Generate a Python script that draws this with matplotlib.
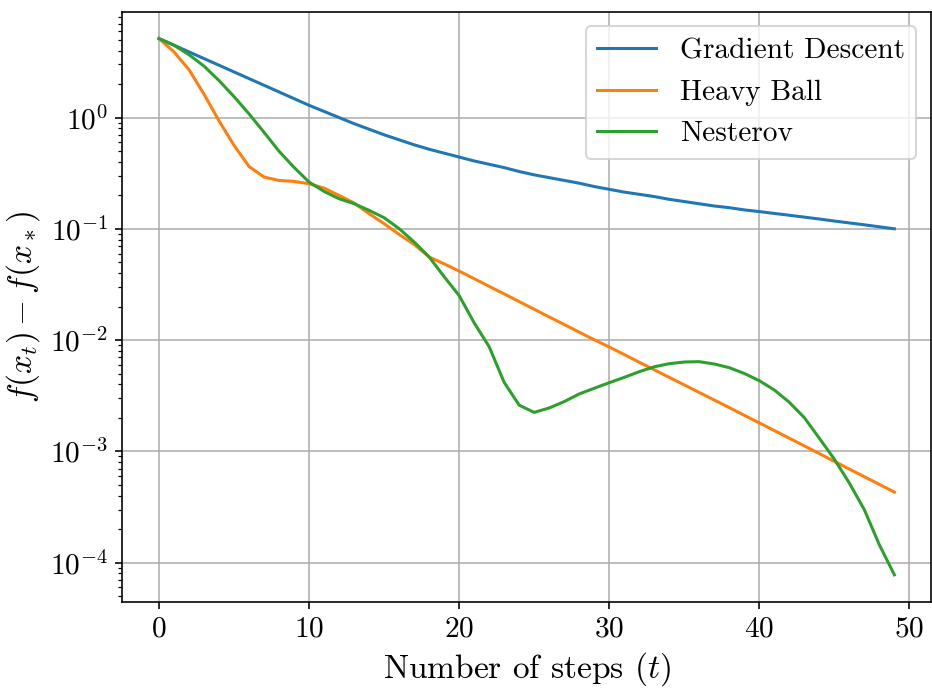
import numpy as np
import matplotlib
matplotlib.use('Agg')
from matplotlib import pyplot as plt
from matplotlib.ticker import FuncFormatter

# log10 of f(x_t) - f(x_*) per step
steps = np.arange(50)

gd_log = [0.71, 0.65, 0.59, 0.53, 0.47, 0.41, 0.35, 0.29, 0.23, 0.17,
          0.11, 0.055, 0.0, -0.055, -0.105, -0.155, -0.20, -0.245, -0.285, -0.32,
          -0.355, -0.39, -0.42, -0.45, -0.485, -0.515, -0.54, -0.565, -0.59, -0.62,
          -0.645, -0.67, -0.69, -0.71, -0.735, -0.755, -0.775, -0.795, -0.81, -0.83,
          -0.845, -0.862, -0.878, -0.895, -0.912, -0.93, -0.947, -0.964, -0.982, -1.0]

hb_log = [0.71, 0.59, 0.43, 0.21, -0.03, -0.25, -0.44, -0.535, -0.565, -0.574,
          -0.595, -0.634, -0.70, -0.768, -0.864, -0.954, -1.05, -1.14, -1.253, -1.315,
          -1.38, -1.448, -1.517, -1.585, -1.654, -1.723, -1.792, -1.86, -1.929, -1.997,
          -2.062, -2.13, -2.199, -2.267, -2.335, -2.403, -2.471, -2.539, -2.607, -2.676,
          -2.744, -2.813, -2.882, -2.951, -3.02, -3.09, -3.159, -3.228, -3.297, -3.366]

nag_log = [0.71, 0.65, 0.565, 0.462, 0.332, 0.188, 0.033, -0.133, -0.303, -0.448,
           -0.58, -0.664, -0.73, -0.774, -0.834, -0.90, -0.998, -1.118, -1.253, -1.43,
           -1.60, -1.845, -2.06, -2.38, -2.585, -2.65, -2.61, -2.553, -2.484, -2.433,
           -2.383, -2.335, -2.284, -2.24, -2.212, -2.197, -2.194, -2.215, -2.248, -2.3,
           -2.365, -2.448, -2.559, -2.697, -2.882, -3.07, -3.285, -3.525, -3.84, -4.11]

labels = ['Gradient Descent', 'Heavy Ball', 'Nesterov']

plt.rcParams['font.family'] = 'serif'
plt.rcParams['font.serif'] = ['cmr10']
plt.rcParams['mathtext.fontset'] = 'cm'
plt.rcParams['axes.formatter.use_mathtext'] = True

fig = plt.figure(figsize=(933 / 146, 690 / 146), dpi=146)
ax = fig.add_axes([0.131, 0.128, 0.867, 0.855])

for vals, lab in zip([gd_log, hb_log, nag_log], labels):
    ax.plot(steps, 10 ** np.array(vals), label=lab)

ax.set_yscale('log')
ax.yaxis.set_major_formatter(FuncFormatter(lambda v, p: r'$10^{%d}$' % round(np.log10(v))))
ax.grid(True)
ax.tick_params(labelsize=14.5)
ax.set_xlabel(r'Number of steps $(t)$', fontsize=16.5)
ax.set_ylabel(r'$f(x_t) - f(x_*)$', fontsize=16.5)
ax.legend(fontsize=14.5, loc='upper right')

plt.savefig('out.png', dpi=146)
